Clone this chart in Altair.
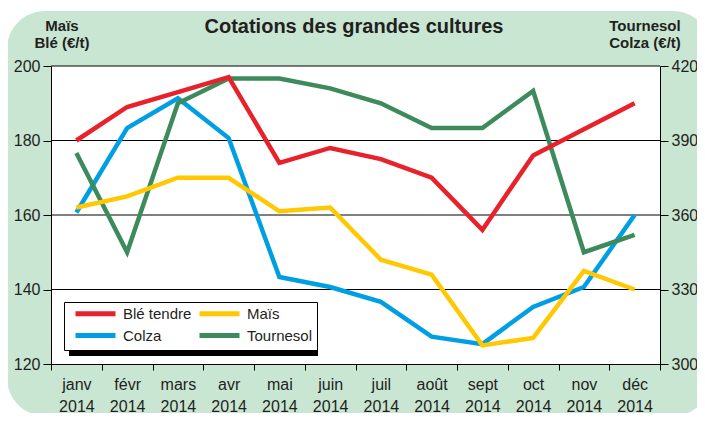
import altair as alt
import pandas as pd

# ---- data ----
months = ["janv", "févr", "mars", "avr", "mai", "juin", "juil", "août", "sept", "oct", "nov", "déc"]
year = "2014"
ble_tendre = [180, 189, 193, 197, 174, 178, 175, 170, 156, 176, 183, 190]
mais = [162, 165, 170, 170, 161, 162, 148, 144, 125, 127, 145, 140]
colza = [361, 395, 407, 391, 335, 331, 325, 311, 308, 323, 331, 360]
tournesol = [385, 345, 405, 415, 415, 411, 405, 395, 395, 410, 345, 352]

series_order = ["Blé tendre", "Maïs", "Colza", "Tournesol"]
series_colors = ["#E8212B", "#FFC800", "#009FE3", "#3D8B5C"]

left_ticks = [120, 140, 160, 180, 200]
right_ticks = [300, 330, 360, 390, 420]

title_text = "Cotations des grandes cultures"
left_title = ["Maïs", "Blé (€/t)"]
right_title = ["Tournesol", "Colza (€/t)"]

# ---- tables ----
left_df = pd.DataFrame({
    "month": months * 2,
    "series": ["Blé tendre"] * 12 + ["Maïs"] * 12,
    "value": ble_tendre + mais,
})
right_df = pd.DataFrame({
    "month": months * 2,
    "series": ["Colza"] * 12 + ["Tournesol"] * 12,
    "value": colza + tournesol,
})
grid_df = pd.DataFrame({"v": left_ticks[1:]})
one = pd.DataFrame({"k": [0]})

W, H = 609, 298
FONT = "Liberation Sans, Arial, sans-serif"
GREEN_BG = "#C9E6D3"
TXT = "#231F20"

x_enc = alt.X(
    "month:N", sort=months, bandPosition=0.5,
    scale=alt.Scale(type="band", paddingInner=0, paddingOuter=0),
    axis=alt.Axis(
        title=None,
        labelExpr=f"datum.label == '' ? '' : [datum.label, '{year}']",
        labelAngle=0,
        tickBand="extent", tickSize=6, labelLineHeight=22, labelFontSize=16,
        labelPadding=6, domainColor="black", tickColor="black",
        labelColor=TXT, labelFont=FONT, zindex=1, labelOverlap=False,
    ),
)

legend = alt.Legend(
    orient="none", legendX=13, legendY=236, columns=2, direction="horizontal", title=None,
    symbolType="M-4,0H4", symbolSize=100, symbolStrokeWidth=5, symbolOffset=20,
    labelFontSize=15, labelFont=FONT, labelColor=TXT, labelOffset=20,
    fillColor="white", strokeColor="black", padding=4,
    columnPadding=-7, rowPadding=1, gridAlign="all",
)
color_enc = alt.Color(
    "series:N",
    scale=alt.Scale(domain=series_order, range=series_colors),
    legend=legend,
)

bg = alt.Chart(one).mark_rect(color=GREEN_BG, cornerRadius=38).encode(
    x=alt.value(-44), x2=alt.value(660), y=alt.value(-55), y2=alt.value(350)
)
plot_bg = alt.Chart(one).mark_rect(color="white").encode(
    x=alt.value(0), x2=alt.value(W), y=alt.value(0), y2=alt.value(H)
)
grid = alt.Chart(grid_df).mark_rule(color="black", strokeWidth=1).encode(
    y=alt.Y("v:Q", scale=alt.Scale(domain=[120, 200], nice=False, zero=False), axis=None)
)
shadow = alt.Chart(one).mark_rect(color="black").encode(
    x=alt.value(18), x2=alt.value(267), y=alt.value(241), y2=alt.value(290)
)

right_lines = alt.Chart(right_df).mark_line(strokeWidth=4.5, strokeCap="butt", strokeJoin="miter").encode(
    x=x_enc,
    y=alt.Y("value:Q", scale=alt.Scale(domain=[300, 420], nice=False, zero=False),
            axis=alt.Axis(orient="right", values=right_ticks, title=None, grid=False,
                          tickSize=8, labelFontSize=16, labelFont=FONT, labelColor=TXT,
                          domainColor="black", tickColor="black", labelPadding=3, zindex=1)),
    color=color_enc,
    detail="series:N",
)
left_lines = alt.Chart(left_df).mark_line(strokeWidth=4.5, strokeCap="butt", strokeJoin="miter").encode(
    x=x_enc,
    y=alt.Y("value:Q", scale=alt.Scale(domain=[120, 200], nice=False, zero=False),
            axis=alt.Axis(orient="left", values=left_ticks, title=None, grid=False,
                          tickSize=8, labelFontSize=16, labelFont=FONT, labelColor=TXT,
                          domainColor="black", tickColor="black", labelPadding=3, zindex=1)),
    color=color_enc,
    detail="series:N",
)

main_title = alt.Chart(one).mark_text(
    font=FONT, fontSize=20, fontWeight="bold", color=TXT, align="center", baseline="alphabetic"
).encode(x=alt.value(303), y=alt.value(-33), text=alt.value(title_text))
lt = alt.Chart(one).mark_text(
    font=FONT, fontSize=15, fontWeight="bold", color=TXT, align="center", baseline="alphabetic", lineHeight=17
).encode(x=alt.value(11), y=alt.value(-35), text=alt.value(left_title))
rt = alt.Chart(one).mark_text(
    font=FONT, fontSize=15, fontWeight="bold", color=TXT, align="center", baseline="alphabetic", lineHeight=17
).encode(x=alt.value(594), y=alt.value(-35), text=alt.value(right_title))

chart = alt.layer(
    bg, plot_bg, grid, right_lines, left_lines, shadow, main_title, lt, rt
).resolve_scale(y="independent").properties(
    width=W, height=H,
    autosize=alt.AutoSizeParams(type="none"),
    padding={"left": 43, "top": 58, "right": 37, "bottom": 49},
    background="white",
).configure_view(stroke=None)

chart.save("out.html", embed_options={"renderer": "svg", "actions": False})
